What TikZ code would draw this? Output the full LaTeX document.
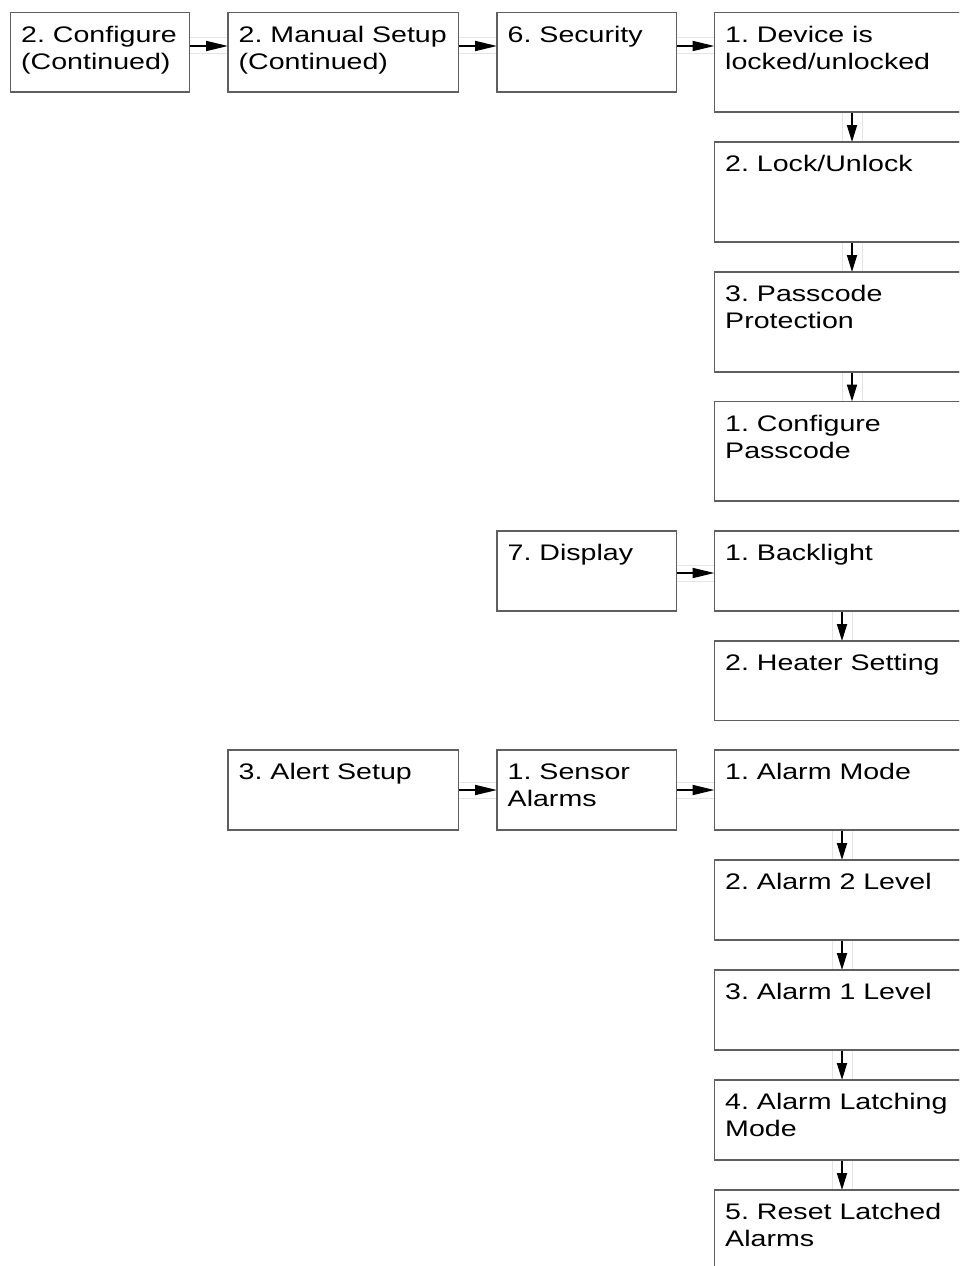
\documentclass[tikz,border=0pt]{standalone}
\usepackage{fontspec}
\setmainfont{Liberation Sans}[FakeStretch=1.27]
\usetikzlibrary{arrows.meta,calc}
\definecolor{boxline}{RGB}{95,95,95}
\definecolor{bandline}{RGB}{228,228,228}
\frenchspacing
\newcommand\flowbox[6]{%
  \node[box, minimum width=#4pt, minimum height=#5pt] (#1) at (#2,#3) {};
  \node[lbl] (#1t) at ($(#1.north west)+(10.5,29.5)$) {\parbox[t]{400pt}{#6}};}
\begin{document}
\begin{tikzpicture}[x=1pt,y=-1pt,
  box/.style={draw=boxline, line width=1.3pt, anchor=north west, inner sep=0pt, outer sep=0pt},
  lbl/.style={anchor=base west, inner sep=0pt, font=\fontsize{22.5}{27}\selectfont},
  arr/.style={line width=1.8pt, -{Triangle[length=22pt,width=10pt]}},
  varr/.style={line width=1.8pt, -{Triangle[length=17pt,width=10pt]}},
  band/.style={draw=bandline, line width=1pt}]
\clip (0,0) rectangle (959,1266);
\fill[white] (0,0) rectangle (959,1266);
% top row
\flowbox{A}{10.5}{12.5}{179}{79.5}{2. Configure\\(Continued)}
\flowbox{B}{228}{12.5}{230.5}{79.5}{2. Manual Setup\\(Continued)}
\flowbox{C}{497}{12.5}{179.5}{79.5}{6. Security}
\flowbox{D}{714.5}{12.5}{262}{99.5}{1. Device is\\locked/unlocked}
\flowbox{E}{714.5}{142}{262}{100}{2. Lock/Unlock}
\flowbox{F}{714.5}{272}{262}{100}{3. Passcode\\Protection}
\flowbox{G}{714.5}{401.5}{262}{99.5}{1. Configure\\Passcode}
% display row
\flowbox{Disp}{497}{531}{179.5}{80}{7. Display}
\flowbox{BL}{714.5}{531}{262}{80}{1. Backlight}
\flowbox{HS}{714.5}{641}{262}{79.5}{2. Heater Setting}
% alert row
\flowbox{AS}{228}{750}{230.5}{80}{3. Alert Setup}
\flowbox{SA}{497}{750}{179.5}{80}{1. Sensor\\Alarms}
\flowbox{AM}{714.5}{750}{262}{80}{1. Alarm Mode}
\flowbox{AT}{714.5}{860}{262}{80}{2. Alarm 2 Level}
\flowbox{AO}{714.5}{970}{262}{80}{3. Alarm 1 Level}
\flowbox{AL}{714.5}{1080}{262}{80}{4. Alarm Latching\\Mode}
\flowbox{AR}{714.5}{1190}{262}{100}{5. Reset Latched\\Alarms}
% horizontal connectors
\coordinate (a1) at ([yshift=6.25pt]A.east);
\coordinate (b1) at ([yshift=6.25pt]B.east);
\coordinate (c1) at ([yshift=6.25pt]C.east);
\coordinate (d1) at ([yshift=-2pt]Disp.east);
\draw[band] ([yshift=8.3pt]a1) rectangle ([yshift=-7.3pt]a1 -| B.west);
\draw[band] ([yshift=8.3pt]b1) rectangle ([yshift=-7.3pt]b1 -| C.west);
\draw[band] ([yshift=8.3pt]c1) rectangle ([yshift=-7.3pt]c1 -| D.west);
\draw[band] ([yshift=8pt]d1) rectangle ([yshift=-8pt]d1 -| BL.west);
\draw[band] ([yshift=8pt]AS.east) rectangle ([yshift=-8pt]SA.west);
\draw[band] ([yshift=8pt]SA.east) rectangle ([yshift=-8pt]AM.west);
\draw[arr] (a1) -- (a1 -| B.west);
\draw[arr] (b1) -- (b1 -| C.west);
\draw[arr] (c1) -- (c1 -| D.west);
\draw[arr] (d1) -- (d1 -| BL.west);
\draw[arr] (AS.east) -- (SA.west);
\draw[arr] (SA.east) -- (AM.west);
% vertical connectors
\foreach \p/\q/\o in {D/E/137.5, E/F/137.5, F/G/137.5, BL/HS/127.5, AM/AT/127.5, AT/AO/127.5, AO/AL/127.5, AL/AR/127.5}{
  \draw[band] ([xshift=\o pt-10pt]\p.south west) rectangle ([xshift=\o pt+10pt]\q.north west);
  \draw[varr] ([xshift=\o pt]\p.south west) -- ([xshift=\o pt]\q.north west);
}
% redraw box borders over bands
\foreach \n in {A,B,C,D,E,F,G,Disp,BL,HS,AS,SA,AM,AT,AO,AL,AR}{
  \draw[draw=boxline, line width=1.3pt] (\n.north west) rectangle (\n.south east);
}
\end{tikzpicture}
\end{document}
